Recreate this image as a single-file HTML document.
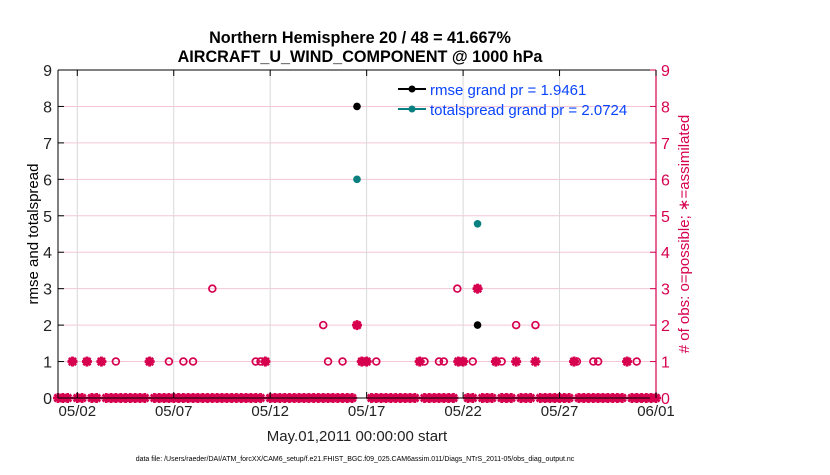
<!DOCTYPE html>
<html><head><meta charset="utf-8">
<style>
body{margin:0;background:#fff;}
svg text{font-family:"Liberation Sans",sans-serif;}
</style></head>
<body>
<svg id="chart" width="830" height="470" viewBox="0 0 830 470" xmlns="http://www.w3.org/2000/svg">
<text x="360" y="43" text-anchor="middle" font-size="16.2" font-weight="bold">Northern Hemisphere 20 / 48 = 41.667%</text>
<text x="360" y="62" text-anchor="middle" font-size="16.2" font-weight="bold">AIRCRAFT_U_WIND_COMPONENT @ 1000 hPa</text>
<g id="grid"></g>
<g id="marks"></g>
<g id="axes"></g>
<text transform="translate(38,234) rotate(-90)" text-anchor="middle" font-size="15">rmse and totalspread</text>
<text transform="translate(689,234) rotate(-90)" text-anchor="middle" font-size="15" fill="#d6004f"># of obs: o=possible; ∗=assimilated</text>
<text x="357" y="441" text-anchor="middle" font-size="15" fill="#222">May.01,2011 00:00:00 start</text>
<text x="355" y="461" text-anchor="middle" font-size="7">data file: /Users/raeder/DAI/ATM_forcXX/CAM6_setup/f.e21.FHIST_BGC.f09_025.CAM6assim.011/Diags_NTrS_2011-05/obs_diag_output.nc</text>
<g>
<line x1="398" y1="89" x2="426" y2="89" stroke="#000" stroke-width="2"/>
<circle cx="412" cy="89" r="3.5" fill="#000"/>
<text x="430" y="95" font-size="15" fill="#0a44ff">rmse grand pr = 1.9461</text>
<line x1="398" y1="109" x2="426" y2="109" stroke="#0a7f7f" stroke-width="2"/>
<circle cx="412" cy="109" r="3.5" fill="#0a7f7f"/>
<text x="430" y="115" font-size="15" fill="#0a44ff">totalspread grand pr = 2.0724</text>
</g>
</svg>
<script>
const xTickDays=[1,6,11,16,21,26,31];
const xTickLabels=["05/02","05/07","05/12","05/17","05/22","05/27","06/01"];
const yTicks=[0,1,2,3,4,5,6,7,8,9];
const eventDays=[0.75,1.5,2.25,3.0,4.75,5.75,6.5,7.0,8.0,10.25,10.5,10.75,13.75,14.0,14.75,15.5,15.75,16.0,16.5,18.75,19.0,19.75,20.0,20.7,20.75,21.0,21.5,21.75,22.7,23.0,23.75,24.75,26.75,26.9,27.75,28.0,29.5,30.0];
const possible=[1,1,1,1,1,1,1,1,3,1,1,1,2,1,1,2,1,1,1,1,1,1,1,3,1,1,1,3,1,1,2,2,1,1,1,1,1,1];
const assimilated=[1,1,1,0,1,0,0,0,0,0,0,1,0,0,0,2,1,1,0,1,0,0,0,0,1,1,0,3,1,0,1,1,1,0,0,0,1,0];
const rmseDays=[15.5,21.75];
const rmseVals=[8,2];
const spreadDays=[15.5,21.75];
const spreadVals=[6,4.78];
const binStep=0.25, nDays=31;

const NS="http://www.w3.org/2000/svg";
const L=58,R=656,T=70,B=398;
const xs=d=>L+(R-L)*d/nDays;
const ys=v=>B-(B-T)*v/9;
const C="#d6004f";
function mk(tag,attrs,parent){const e=document.createElementNS(NS,tag);for(const k in attrs)e.setAttribute(k,attrs[k]);parent.appendChild(e);return e;}
const grid=document.getElementById('grid'),marks=document.getElementById('marks'),axes=document.getElementById('axes');
yTicks.forEach(v=>{if(v>0&&v<9){const l=mk('line',{x1:L,x2:R,y1:ys(v),y2:ys(v),stroke:'#f3c6d6','stroke-width':1},grid);

}});
xTickDays.forEach(d=>{if(d<nDays){const l=mk('line',{x1:xs(d),x2:xs(d),y1:T,y2:B,stroke:'#d8d8d8','stroke-width':1},grid);

}});
function star(d,v){const g=mk('g',{},marks);


const x=xs(d),y=ys(v),r=5,q=3.6;
mk('line',{x1:x-r,x2:x+r,y1:y,y2:y,stroke:C,'stroke-width':2.8},g);
mk('line',{x1:x,x2:x,y1:y-r,y2:y+r,stroke:C,'stroke-width':2.8},g);
mk('line',{x1:x-q,x2:x+q,y1:y-q,y2:y+q,stroke:C,'stroke-width':2.6},g);
mk('line',{x1:x-q,x2:x+q,y1:y+q,y2:y-q,stroke:C,'stroke-width':2.6},g);
mk('circle',{cx:x,cy:y,r:3.2,fill:C},g);}
function ring(d,v){const c=mk('circle',{cx:xs(d),cy:ys(v),r:3.4,fill:'none',stroke:C,'stroke-width':1.7},marks);

}
for(let d=0;d<=nDays+1e-9;d+=binStep){
  const busy=eventDays.some((e,i)=>assimilated[i]>0&&Math.abs(e-d)<0.13);
  if(!busy)star(d,0);
}
eventDays.forEach((d,i)=>{if(possible[i]>0)ring(d,possible[i]);});
eventDays.forEach((d,i)=>{if(assimilated[i]>0)star(d,assimilated[i]);});
rmseDays.forEach((d,i)=>{const c=mk('circle',{cx:xs(d),cy:ys(rmseVals[i]),r:3.8,fill:'#000'},marks);

});
spreadDays.forEach((d,i)=>{const c=mk('circle',{cx:xs(d),cy:ys(spreadVals[i]),r:3.8,fill:'#0a7f7f'},marks);

});
mk('line',{x1:L,x2:R,y1:T,y2:T,stroke:'#000','stroke-width':1},axes);
mk('line',{x1:L,x2:R,y1:B,y2:B,stroke:'#000','stroke-width':1},axes);
mk('line',{x1:L,x2:L,y1:T,y2:B,stroke:'#000','stroke-width':1},axes);
mk('line',{x1:R,x2:R,y1:T,y2:B,stroke:C,'stroke-width':1.2},axes);
yTicks.forEach(v=>{
 mk('line',{x1:L,x2:L+6,y1:ys(v),y2:ys(v),stroke:'#000'},axes);
 mk('line',{x1:R-6,x2:R,y1:ys(v),y2:ys(v),stroke:C},axes);
 const t=mk('text',{x:L-6,y:ys(v)+6,'text-anchor':'end','font-size':16,fill:'#222'},axes);t.textContent=v;
 
 
 const t2=mk('text',{x:R+5,y:ys(v)+6,'font-size':16,fill:C},axes);t2.textContent=v;
 
 
});
xTickDays.forEach((d,i)=>{
 mk('line',{x1:xs(d),x2:xs(d),y1:B,y2:B-6,stroke:'#000'},axes);
 mk('line',{x1:xs(d),x2:xs(d),y1:T,y2:T+6,stroke:'#000'},axes);
 const t=mk('text',{x:xs(d),y:B+18,'text-anchor':'middle','font-size':15,fill:'#222'},axes);t.textContent=xTickLabels[i];
 
 
});
</script>
</body></html>
